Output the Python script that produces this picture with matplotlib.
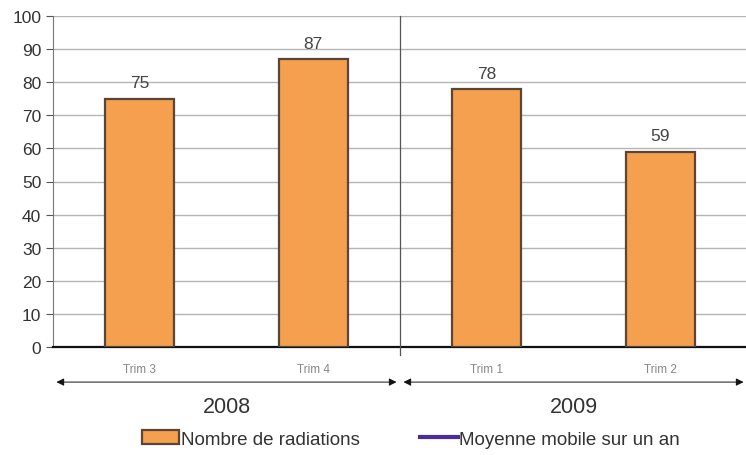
import matplotlib.pyplot as plt
from matplotlib.patches import Patch
from matplotlib.lines import Line2D
import matplotlib.transforms as mtransforms

plt.rcParams['font.family'] = ['Liberation Sans', 'DejaVu Sans']

# data
quarters = ['Trim 3', 'Trim 4', 'Trim 1', 'Trim 2']
radiations = [75, 87, 78, 59]
years = ['2008', '2009']
quarters_per_year = [2, 2]

bar_color = '#F5A04E'
edge_color = '#5A4636'

fig = plt.figure(figsize=(7.46, 4.56), dpi=100)
ax = fig.add_axes([53 / 746, 108 / 456, 694 / 746, 331 / 456])

x = list(range(len(quarters)))
bars = ax.bar(x, radiations, width=0.4, color=bar_color, edgecolor=edge_color,
              linewidth=1.6, zorder=3)
for b, v in zip(bars, radiations):
    ax.text(b.get_x() + b.get_width() / 2, v + 2.5, str(v), ha='center', va='bottom',
            fontsize=12.5, color='#444444')

ax.set_xlim(-0.5, len(quarters) - 0.5)
ax.set_ylim(0, 100)
ax.set_yticks(range(0, 101, 10))
ax.tick_params(axis='y', labelsize=12.5, labelcolor='#333333', length=5, color='#555555')
ax.set_xticks([])
ax.grid(axis='y', color='#b5b5b5', linewidth=1, zorder=0)

for s in ['top', 'right']:
    ax.spines[s].set_visible(False)
ax.spines['left'].set_color('#777777')
ax.spines['bottom'].set_color('#111111')
ax.spines['bottom'].set_linewidth(1.6)

trans = mtransforms.blended_transform_factory(ax.transData, ax.transAxes)

# year separators
start = -0.5
for yr, n in zip(years, quarters_per_year):
    end = start + n
    if end < len(quarters) - 0.5:
        ax.plot([end, end], [-0.025, 1.0], transform=trans, color='#555555',
                linewidth=0.9, clip_on=False, zorder=4)
    ax.annotate('', xy=(start + 0.02, -0.106), xytext=(end - 0.02, -0.106),
                xycoords=trans, textcoords=trans,
                arrowprops=dict(arrowstyle='<|-|>', color='#111111', lw=0.7,
                                mutation_scale=11, shrinkA=0, shrinkB=0))
    ax.text((start + end) / 2, -0.18, yr, transform=trans, ha='center', va='center',
            fontsize=15.5, color='#333333')
    start = end

for xi, q in zip(x, quarters):
    ax.text(xi, -0.066, q, transform=trans, ha='center', va='center',
            fontsize=8.5, color='#888888')

handles = [Patch(facecolor=bar_color, edgecolor=edge_color, linewidth=1.6),
           Line2D([], [], color='#4B2C9E', linewidth=3)]
fig.legend(handles, ['Nombre de radiations', 'Moyenne mobile sur un an'],
           loc='center', bbox_to_anchor=(0.551, 0.035), ncol=2, frameon=False,
           fontsize=13.5, handlelength=2.0, handletextpad=0.1, columnspacing=3.2,
           labelcolor='#333333')

fig.savefig('out.png', dpi=100)
